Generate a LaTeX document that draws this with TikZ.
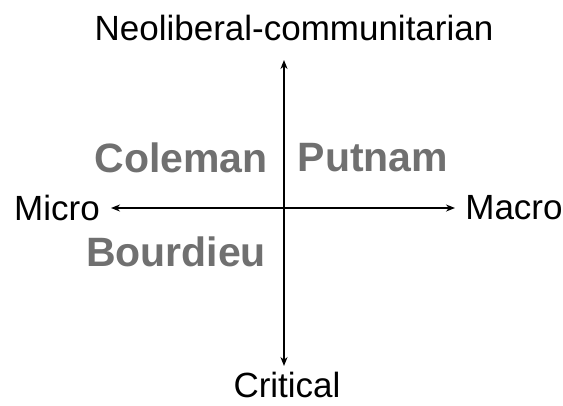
\documentclass[tikz,border=0pt]{standalone}
\usepackage{fontspec}
\setmainfont{Liberation Sans}
\usetikzlibrary{arrows.meta}
\definecolor{namegray}{HTML}{707070}
\begin{document}
\begin{tikzpicture}[x=1pt,y=-1pt,
  axislabel/.style={font=\fontsize{35}{40}\selectfont, inner sep=0pt},
  namelabel/.style={font=\fontsize{41}{46}\selectfont\bfseries, text=namegray, inner sep=0pt},
  axis/.style={line width=2pt, {Stealth[length=9pt,width=7pt]}-{Stealth[length=9pt,width=7pt]}}]
\useasboundingbox (0,0) rectangle (563,405);
\node[axislabel] (top) at (294,28) {Neoliberal-communitarian};
\node[axislabel] (bot) at (287,385) {Critical};
\node[axislabel] (left) at (57,208) {Micro};
\node[axislabel] (right) at (514,208) {Macro};
\coordinate (t) at (284,60);
\coordinate (b) at (284,366);
\coordinate (l) at (111,208);
\coordinate (r) at (455,208);
\draw[axis] (t) -- (b);
\draw[axis] (l) -- (r);
\node[namelabel] (coleman) at (181,158) {Coleman};
\node[namelabel] (putnam) at (373,158) {Putnam};
\node[namelabel] (bourdieu) at (176,252) {Bourdieu};
\end{tikzpicture}
\end{document}
